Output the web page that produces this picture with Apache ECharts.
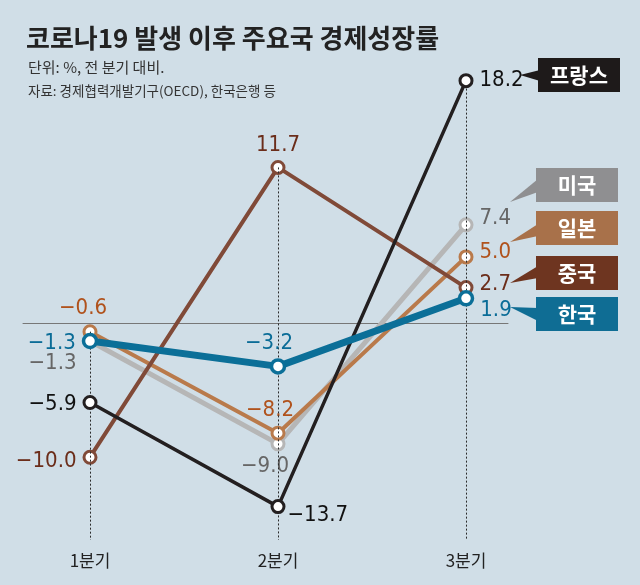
<!DOCTYPE html>
<html><head><meta charset="utf-8">
<script src="https://cdn.jsdelivr.net/npm/echarts@6/dist/echarts.min.js"></script>
<style>html,body{margin:0;padding:0;background:#d0dee7;}#c{width:640px;height:585px;}</style>
</head><body><div id="c"></div>
<script>
const categories = ['1분기', '2분기', '3분기'];
const countryNames = ['미국', '일본', '중국', '프랑스', '한국'];
const usValues = [-1.3, -9.0, 7.4];
const japanValues = [-0.6, -8.2, 5.0];
const chinaValues = [-10.0, 11.7, 2.7];
const franceValues = [-5.9, -13.7, 18.2];
const koreaValues = [-1.3, -3.2, 1.9];
const titleText = '코로나19 발생 이후 주요국 경제성장률';
const unitText = '단위: %, 전 분기 대비.';
const sourceText = '자료: 경제협력개발기구(OECD), 한국은행 등';

const Y_MIN = -16.2, Y_MAX = 20;
const X_MIN = -0.3564, X_MAX = 2.2234;
const NUM_FONT = '"Liberation Sans Narrow","DejaVu Sans Condensed",sans-serif';
const KR_FONT = '"Noto Sans CJK KR","Noto Sans",sans-serif';

function fmt(v) { return (v < 0 ? '\u2212' : '') + Math.abs(v).toFixed(1); }

const styles = {
  '미국': {line: '#b6b6b6', width: 5, text: '#666666', box: '#8f8f91'},
  '일본': {line: '#b97a4b', width: 4, text: '#b0521c', box: '#a8714a'},
  '중국': {line: '#804a38', width: 4, text: '#6b2d1a', box: '#6e3520'},
  '프랑스': {line: '#231f20', width: 3.5, text: '#111111', box: '#1e1a1a'},
  '한국': {line: '#0b6f98', width: 7, text: '#0a6c97', box: '#0f6d94'}
};
// label placement per point (style only)
const labelLayout = {
  '미국': [{position: 'left', distance: 6, offset: [0, 22]}, {position: 'bottom', distance: 4, offset: [-13, 0]}, {position: 'right', distance: 6, offset: [0, -7]}],
  '일본': [{position: 'top', distance: 5, offset: [-7, 0]}, {position: 'top', distance: 4, offset: [-8, 0]}, {position: 'right', distance: 6, offset: [0, -5]}],
  '중국': [{position: 'left', distance: 6, offset: [0, 4]}, {position: 'top', distance: 4, offset: [0, 0]}, {position: 'right', distance: 6, offset: [0, -3]}],
  '프랑스': [{position: 'left', distance: 6, offset: [0, 2]}, {position: 'right', distance: 2, offset: [0, 9]}, {position: 'right', distance: 6, offset: [0, 0]}],
  '한국': [{position: 'left', distance: 6, offset: [0, 2]}, {position: 'top', distance: 4, offset: [-9, 0]}, {position: 'right', distance: 6, offset: [0, 12]}]
};
const valuesByName = {'미국': usValues, '일본': japanValues, '중국': chinaValues, '프랑스': franceValues, '한국': koreaValues};

const allSeriesVals = countryNames.map(n => valuesByName[n]);
const topAt = categories.map((c, i) => Math.max(...allSeriesVals.map(a => a[i])));

const series = countryNames.map((name, si) => {
  const st = styles[name];
  const s = {
    name: name,
    type: 'line',
    xAxisIndex: 0,
    z: 2 + si,
    symbol: 'circle',
    symbolSize: name === '한국' ? 13 : 12,
    lineStyle: {color: st.line, width: st.width},
    itemStyle: {color: '#ffffff', borderColor: st.line, borderWidth: name === '한국' ? 3.5 : 3},
    animation: false,
    data: valuesByName[name].map((v, i) => ({
      value: [i, v],
      label: Object.assign({
        show: true,
        formatter: p => fmt(p.value[1]),
        color: st.text,
        fontFamily: NUM_FONT,
        fontSize: 22
      }, labelLayout[name][i])
    }))
  };
  if (si === 0) {
    s.markLine = {
      silent: true,
      symbol: ['none', 'none'],
      animation: false,
      label: {show: false},
      lineStyle: {color: '#2a2a2a', type: [2, 2], width: 1},
      data: categories.map((c, i) => [{coord: [i, topAt[i]]}, {coord: [i, Y_MIN]}])
    };
    s.z = 1;
  }
  return s;
});

// legend boxes with callouts (annotation graphics)
const boxes = [
  {name: '프랑스', x: 538, y: 58, tip: [520, 75], base: [70, 81]},
  {name: '미국', x: 536, y: 168, tip: [510, 202], base: [179, 192]},
  {name: '일본', x: 536, y: 211, tip: [510, 242], base: [224, 236]},
  {name: '중국', x: 536, y: 256, tip: [510, 283], base: [266, 278]},
  {name: '한국', x: 536, y: 297, tip: [510, 307], base: [308, 321]}
];
const graphic = [];
boxes.forEach(b => {
  const col = styles[b.name].box;
  graphic.push({type: 'polygon', shape: {points: [b.tip, [b.x + 2, b.base[0]], [b.x + 2, b.base[1]]]}, style: {fill: col}, z: 10});
  graphic.push({type: 'rect', shape: {x: b.x, y: b.y, width: 82, height: 34}, style: {fill: col}, z: 10});
  graphic.push({type: 'text', z: 11, style: {text: b.name, x: b.x + 41, y: b.y + 17, fill: '#ffffff', font: 'bold 21px ' + KR_FONT, align: 'center', verticalAlign: 'middle'}});
});

const chart = echarts.init(document.getElementById('c'), null, {renderer: 'canvas'});
chart.setOption({
  backgroundColor: '#d0dee7',
  animation: false,
  title: [
    {text: titleText, left: 21, top: 18, textStyle: {fontFamily: KR_FONT, fontWeight: 'bold', fontSize: 26, color: '#222', lineHeight: 30}},
    {text: unitText, left: 23, top: 53, textStyle: {fontFamily: KR_FONT, fontWeight: 'normal', fontSize: 15, color: '#333', lineHeight: 18}},
    {text: sourceText, left: 23, top: 77, textStyle: {fontFamily: KR_FONT, fontWeight: 'normal', fontSize: 13.5, color: '#333', lineHeight: 18}}
  ],
  grid: {left: 23, right: 132, top: 56.6, bottom: 45, containLabel: false},
  xAxis: [
    {type: 'value', min: X_MIN, max: X_MAX, axisLine: {show: true, onZero: true, lineStyle: {color: '#777', width: 1}},
     axisTick: {show: false}, axisLabel: {show: false}, splitLine: {show: false}},
    {type: 'value', min: X_MIN, max: X_MAX, position: 'bottom', axisLine: {show: false}, axisTick: {show: false}, splitLine: {show: false},
     axisLabel: {show: true, customValues: [0, 1, 2], formatter: v => categories[Math.round(v)], margin: 12,
       fontFamily: KR_FONT, fontSize: 17, color: '#222'}}
  ],
  yAxis: {type: 'value', min: Y_MIN, max: Y_MAX, show: false, splitLine: {show: false}},
  graphic: graphic,
  series: series
});
</script></body></html>
